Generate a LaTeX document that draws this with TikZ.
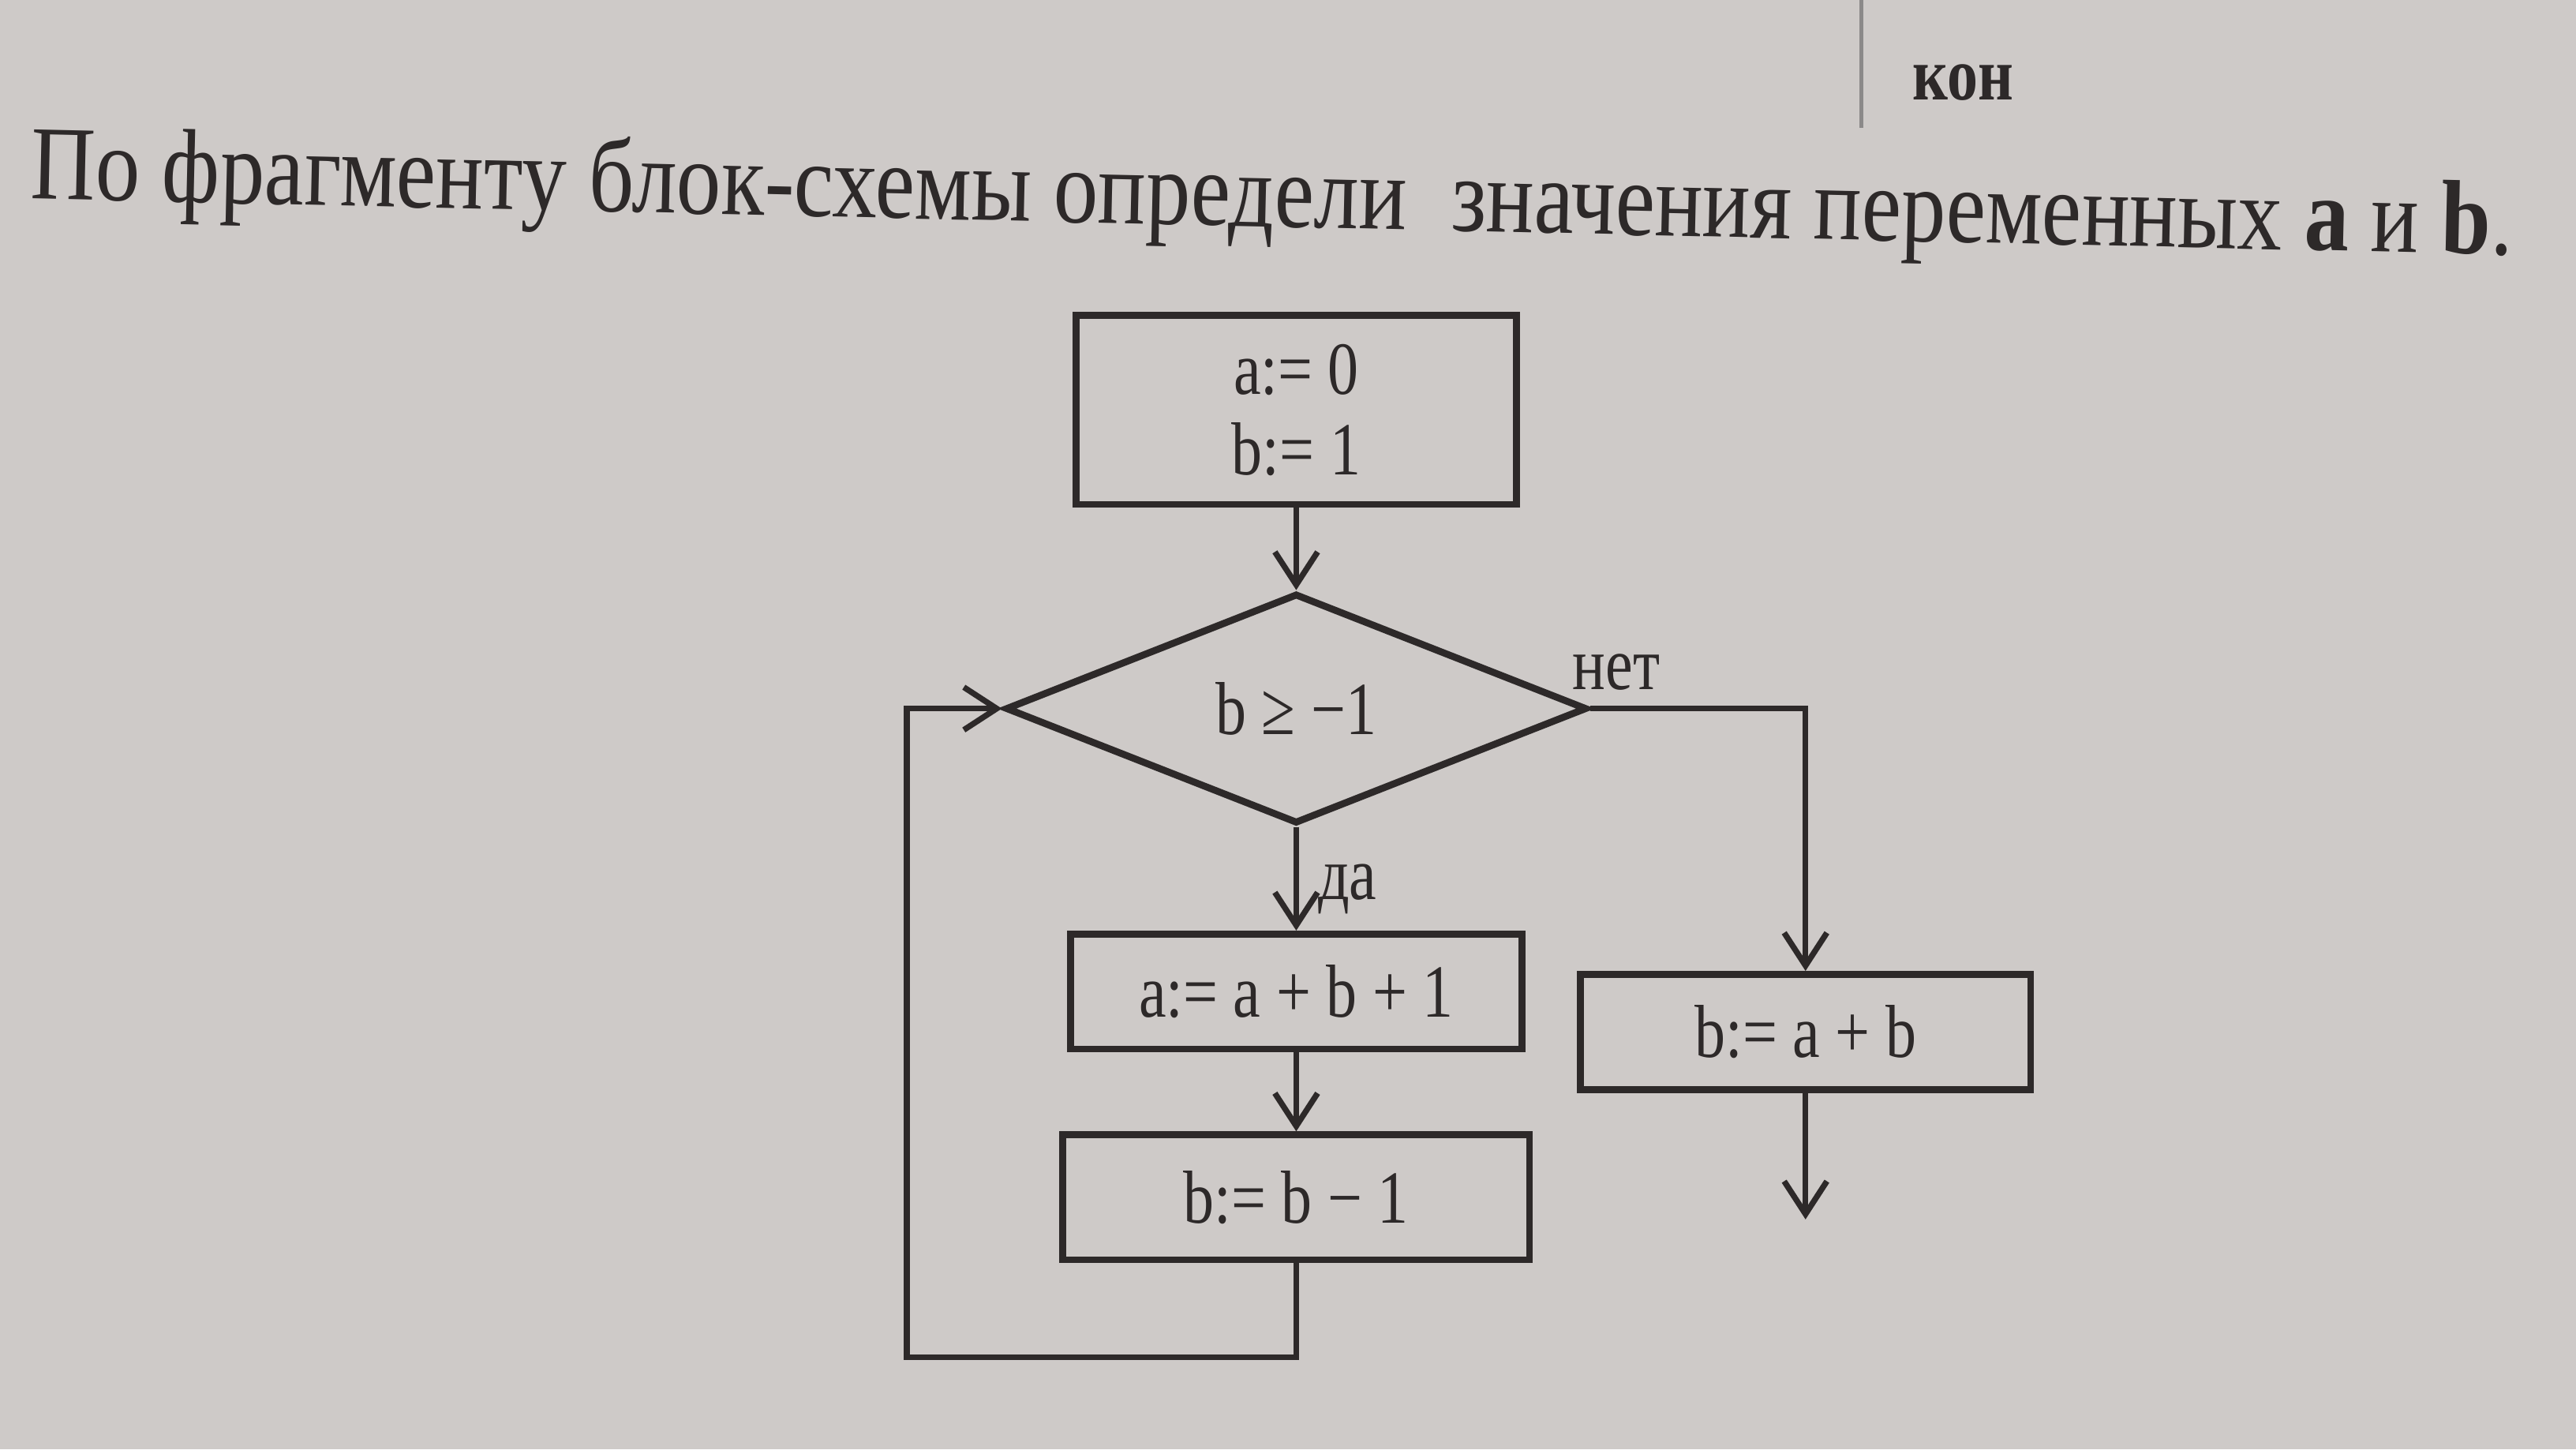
\documentclass[tikz,border=0pt]{standalone}
\usepackage{fontspec}
\setmainfont{Liberation Serif}[FakeStretch=0.82]
\newfontfamily\titlefont{Liberation Serif}[FakeStretch=0.85]
\usetikzlibrary{shapes.geometric,arrows.meta,positioning}
\definecolor{paper}{RGB}{206,202,200}
\definecolor{ink}{RGB}{45,41,41}
\tikzstyle{block} = [rectangle, draw=ink, line width=1.2pt, text=ink, align=center, inner sep=0pt, font=\fontsize{13}{14}\selectfont]
\tikzstyle{decision} = [diamond, draw=ink, line width=1.2pt, text=ink, inner sep=0pt, minimum width=3.54cm, minimum height=1.4cm, font=\fontsize{13}{14}\selectfont]
\tikzstyle{tag} = [text=ink, inner sep=1pt, font=\fontsize{13}{14}\selectfont]
\tikzstyle{line} = [draw=ink, line width=1pt]

\begin{document}
\begin{tikzpicture}[>={Straight Barb[length=2mm,width=2.6mm]}, node distance=0.5cm]
    \fill[paper] (0,0) rectangle (15.68,-8.82);
    \useasboundingbox (0,0) rectangle (15.68,-8.82);

    % заголовок
    \draw[ink!55, line width=0.6pt] (11.33,0) -- (11.33,-0.78);
    \node[tag, font=\bfseries\fontsize{13}{14}\selectfont] (kon) at (11.95,-0.50) {кон};
    \node[text=ink, anchor=base, rotate=-1.3, font=\titlefont\fontsize{18.2}{20}\selectfont] (title) at (7.74,-1.38)
        {По фрагменту блок-схемы определи\ \ значения переменных \textbf{a} и \textbf{b}.};

    % блоки
    \node[block, minimum width=2.68cm, minimum height=1.15cm] (init) at (7.89,-2.495) {a:= 0\\ b:= 1};
    \node[decision, below=0.5cm of init] (cond) {b ≥ −1};
    \node[block, minimum width=2.75cm, minimum height=0.7cm, below=0.63cm of cond] (inc) {a:= a + b + 1};
    \node[block, minimum width=2.84cm, minimum height=0.76cm, below=0.48cm of inc] (dec) {b:= b − 1};
    \node[block, minimum width=2.74cm, minimum height=0.7cm] (sumab) at (10.99,-6.28) {b:= a + b};

    % выход и возврат
    \coordinate[below=0.77cm of sumab] (exit);
    \coordinate (corner) at (5.52,-8.26);

    % соединения
    \draw[line, ->] (init) -- (cond);
    \draw[line, ->] (cond) -- node[tag, right, pos=0.6, xshift=0.08cm] (yes) {да} (inc);
    \draw[line, ->] (inc) -- (dec);
    \draw[line, ->] (cond.east) -| node[tag, pos=0, anchor=south west, xshift=-0.16cm, yshift=0.06cm] (no) {нет} (sumab.north);
    \draw[line, ->] (sumab) -- (exit);
    \draw[line, ->] (dec) -- (dec |- corner) -- (corner) |- (cond.west);
\end{tikzpicture}
\end{document}
